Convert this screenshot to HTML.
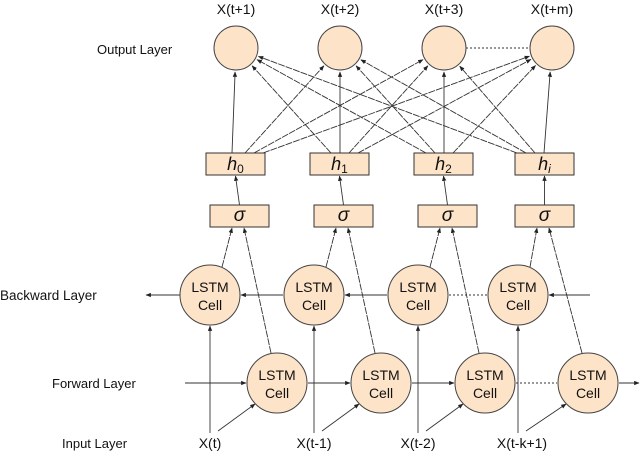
<!DOCTYPE html><html><head><style>body{margin:0;background:#fff}svg{display:block}text{font-family:"Liberation Sans",sans-serif;fill:#111}</style></head><body>
<svg id="s" width="640" height="451" viewBox="0 0 640 451" xmlns="http://www.w3.org/2000/svg">
<defs><marker id="a" viewBox="0 0 10 10" refX="9" refY="5" markerWidth="6" markerHeight="6" orient="auto"><path d="M0,1L10,5L0,9z" fill="#222"/></marker></defs>
<g id="g" stroke="#333" stroke-width="0.9" fill="none"></g>
<g font-size="13">
<text x="97" y="54">Output Layer</text>
<text x="0" y="300" font-size="13.5">Backward Layer</text>
<text x="52" y="388">Forward Layer</text>
<text x="62" y="448">Input Layer</text>
<g font-size="14">
<text x="236" y="14" text-anchor="middle">X(t+1)</text><text x="340" y="14" text-anchor="middle">X(t+2)</text><text x="444" y="14" text-anchor="middle">X(t+3)</text><text x="552" y="14" text-anchor="middle">X(t+m)</text>
<text x="210" y="448" text-anchor="middle">X(t)</text><text x="314" y="448" text-anchor="middle">X(t-1)</text><text x="418" y="448" text-anchor="middle">X(t-2)</text><text x="522" y="448" text-anchor="middle">X(t-k+1)</text>
</g>
</g>
</svg>
<script>
var g=document.getElementById('g'),s=document.getElementById('s'),NS='http://www.w3.org/2000/svg';
function el(t,a,p){var e=document.createElementNS(NS,t);for(var k in a)e.setAttribute(k,a[k]);(p||g).appendChild(e);return e}
function ln(x1,y1,x2,y2,dash,arr){var a={x1:x1,y1:y1,x2:x2,y2:y2};if(dash)a['stroke-dasharray']=dash;if(arr)a['marker-end']='url(#a)';el('line',a)}
var F='#fde3c8';
var out=[[236,48],[340,48],[444,48],[552,48]];
var hx=[236,340,444,544];
for(var i=0;i<4;i++)for(var j=0;j<4;j++){var sx=hx[i]+(j-i)*9,sy=153;if(i==j)sx=hx[i]+(i==0?-4:0);var ox=out[j][0],oy=out[j][1];var dx=sx-ox,dy=sy-oy,d=Math.hypot(dx,dy);var ex=ox+dx/d*24,ey=oy+dy/d*24;ln(sx,sy,ex,ey,i==j?null:'7,1',true)}
ln(466,48,530,48,'2,2');
var hb=[206,310,414,515],sb=[210,314,418,515],hl=['0','1','2','i'];
var lbox=el('g',{},s);
for(var i=0;i<4;i++){el('rect',{x:hb[i],y:153,width:59,height:22,fill:F,stroke:'#333'},lbox);el('rect',{x:sb[i],y:205,width:59,height:22,fill:F,stroke:'#333'},lbox);
var t=el('text',{x:hb[i]+29.5,y:170,'text-anchor':'middle','font-family':'Liberation Serif','font-style':'italic','font-size':'18'},lbox);t.textContent='h';var ts=el('tspan',{'font-size':'12',dy:'3','font-style':hl[i]=='i'?'italic':'normal'},t);ts.textContent=hl[i];
var t2=el('text',{x:sb[i]+29.5,y:221,'text-anchor':'middle','font-family':'Liberation Serif','font-style':'italic','font-size':'19'},lbox);t2.textContent='σ';
ln(sb[i]+29.5,205,hb[i]+29.5,176,null,true)}
for(var i=0;i<4;i++){el('circle',{cx:out[i][0],cy:out[i][1],r:22,fill:F,stroke:'#444'},lbox)}
var bx=[210,314,418,518],fx=[277,381,485,588],by=295,fy=383;
for(var i=0;i<4;i++){
ln(bx[i],433,bx[i],326,null,true);
ln(bx[i]+8,431,fx[i]-22,404,null,true);
ln(bx[i]+12,267,sb[i]+22,228,'7,1',true);
ln(fx[i]-6,353,sb[i]+34,228,'7,1',true);}
ln(180,295,146,295,null,true);
ln(590,295,549,295,null,true);
ln(bx[1]-31,295,bx[0]+31,295,null,true);ln(bx[2]-31,295,bx[1]+31,295,null,true);ln(bx[3]-31,295,bx[2]+31,295,'2,2');
ln(185,383,246,383,null,true);ln(fx[0]+31,383,fx[1]-31,383,null,true);ln(fx[1]+31,383,fx[2]-31,383,null,true);ln(fx[2]+31,383,fx[3]-31,383,'2,2');ln(fx[3]+31,383,639,383,null,true);
function cell(x,y){el('circle',{cx:x,cy:y,r:30,fill:F,stroke:'#444'},lbox);var t=el('text',{x:x,y:y-3,'text-anchor':'middle','font-size':'14'},lbox);t.textContent='LSTM';var t2=el('text',{x:x,y:y+15,'text-anchor':'middle','font-size':'14'},lbox);t2.textContent='Cell'}
for(var i=0;i<4;i++){cell(bx[i],by);cell(fx[i],fy)}
</script>
</body></html>
